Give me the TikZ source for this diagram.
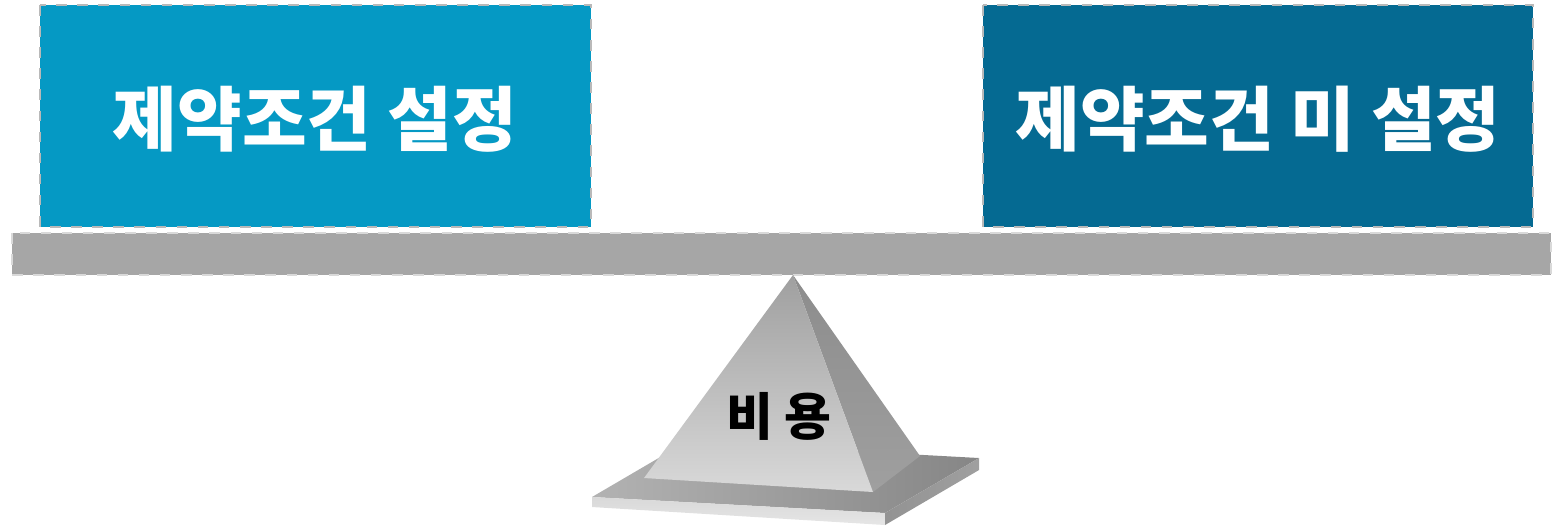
\documentclass[tikz,border=0pt]{standalone}
\usepackage{fontspec}
\newfontfamily\kr{Noto Sans CJK KR}
\usetikzlibrary{positioning}
\definecolor{lightblue}{RGB}{5,153,196}
\definecolor{darkblue}{RGB}{5,106,146}
\definecolor{bargray}{RGB}{166,166,166}
\tikzset{box/.style={draw=gray!55, dashed, line width=0.6pt},
  title/.style={text=white, font=\kr\bfseries\fontsize{20}{23}\selectfont},
  face/.style={draw=none}}

\begin{document}
\begin{tikzpicture}[x=0.01cm,y=-0.01cm]
  \useasboundingbox (0,0) rectangle (1552,526);
  % two weights on the beam
  \fill[lightblue] (40,5) rectangle (591,227);
  \draw[box] (40,5) rectangle (591,227);
  \fill[darkblue] (983,5) rectangle (1533,227);
  \draw[box] (983,5) rectangle (1533,227);
  \node[title] (set) at (315,119) {제약조건 설정};
  \node[title] (unset) at (1258,119) {제약조건 미 설정};
  % beam
  \fill[bargray] (12,233) rectangle (1551,275);
  \draw[box, draw=gray!30] (12,233) rectangle (1551,275);
  % base slab
  \shade[face, left color=gray!60, right color=gray!95] (592,497) -- (686,442) -- (979,458) -- (885,513) -- cycle;
  \shade[face, top color=gray!30, bottom color=gray!20] (592,497) -- (885,513) -- (885,525) -- (592,507) -- cycle;
  \shade[face, left color=gray!85, right color=gray!75] (885,513) -- (979,458) -- (979,470) -- (885,525) -- cycle;
  % pyramid
  \shade[face, top color=gray!90, bottom color=gray!75] (793,275) -- (920,456) -- (873,492) -- cycle;
  \shade[face, top color=gray!75, bottom color=gray!30] (793,275) -- (873,492) -- (644,478) -- cycle;
  \node[font=\kr\bfseries\fontsize{14.5}{17}\selectfont] (cost) at (779,416) {비 용};
\end{tikzpicture}
\end{document}
